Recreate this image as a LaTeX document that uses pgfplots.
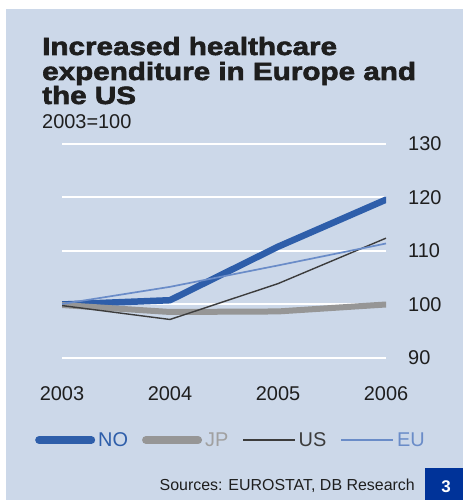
\documentclass[border=0pt]{standalone}
\usepackage{pgfplots}
\pgfplotsset{compat=1.18}
\usepackage{fontspec}
\setmainfont{Liberation Sans}
\newfontfamily\titlefont{Liberation Sans Bold}[FakeBold=2.5,FakeStretch=1.19]
\definecolor{bg}{RGB}{204,216,233}
\definecolor{noc}{RGB}{46,94,170}
\definecolor{jpc}{RGB}{150,150,150}
\definecolor{jpt}{RGB}{160,160,160}
\definecolor{usc}{RGB}{60,60,60}
\definecolor{euc}{RGB}{106,140,200}
\definecolor{boxc}{RGB}{0,51,153}
\definecolor{txt}{RGB}{30,30,30}
\begin{document}
\begin{tikzpicture}
\begin{scope}[x=1bp,y=1bp]
\path[use as bounding box,fill=white] (0,0) rectangle (463,502);
\fill[bg] (6,2) rectangle (463,493);
\node[anchor=base west,inner sep=0pt,text=txt] at (42,447) {\titlefont\fontsize{25}{25}\selectfont Increased healthcare};
\node[anchor=base west,inner sep=0pt,text=txt] at (42,422) {\titlefont\fontsize{25}{25}\selectfont expenditure in Europe and};
\node[anchor=base west,inner sep=0pt,text=txt] at (42,398) {\titlefont\fontsize{25}{25}\selectfont the US};
\node[anchor=base west,inner sep=0pt,text=txt] at (42,373) {\fontsize{20}{20}\selectfont 2003=100};
\end{scope}
\begin{axis}[
  at={(62bp,144bp)}, anchor=south west,
  scale only axis, width=324bp, height=214bp,
  xmin=2003, xmax=2006, ymin=90, ymax=130,
  xtick={2003,2004,2005,2006},
  ytick={90,100,110,120,130},
  axis line style={draw=none},
  tick style={draw=none},
  ymajorgrids, grid style={white, line width=2bp},
  yticklabel pos=right,
  /pgf/number format/assume math mode=true,
  /pgf/number format/1000 sep={},
  ticklabel style={font=\fontsize{20}{20}\selectfont, text=txt, inner sep=0pt},
  yticklabel style={anchor=west, xshift=22bp},
  xticklabel style={anchor=north, yshift=-28bp},
  legend image code/.code={\draw[#1] (0bp,0bp) -- (52bp,0bp);},
  legend columns=4,
  legend style={draw=none, fill=none, at={(-0.0926,-0.3832)}, anchor=west,
    nodes={inner sep=0pt, font=\fontsize{20}{20}\selectfont},
    /tikz/every odd column/.append style={column sep=3bp},
    /tikz/every even column/.append style={column sep=14bp}},
]
\addplot[noc, line width=6.5bp, line join=round, line cap=round, legend image post style={line width=8bp}] coordinates {(2003,100) (2004,100.8) (2005,110.8) (2006,119.6)};
\addlegendentry{\textcolor{noc}{NO}}
\addplot[jpc, line width=6bp, line join=round, line cap=round, legend image post style={line width=8bp}] coordinates {(2003,99.9) (2004,98.6) (2005,98.7) (2006,100.0)};
\addlegendentry{\textcolor{jpt}{JP}}
\addplot[usc, line width=1.4bp, line join=round] coordinates {(2003,99.8) (2004,97.2) (2005,103.9) (2006,112.4)};
\addlegendentry{\textcolor{usc}{US}}
\addplot[euc, line width=1.7bp, line join=round] coordinates {(2003,100.1) (2004,103.3) (2005,107.3) (2006,111.4)};
\addlegendentry{\textcolor{euc}{EU}}
\end{axis}
\begin{scope}[x=1bp,y=1bp]
\node[anchor=base east,inner sep=0pt,text=txt] at (415,11) {\fontsize{16}{16}\selectfont Sources: EUROSTAT, DB Research};
\fill[boxc] (425,2) rectangle (463,34);
\node[anchor=base,inner sep=0pt,text=white] at (446,9) {\fontsize{17}{17}\selectfont\bfseries 3};
\end{scope}
\end{tikzpicture}
\end{document}
